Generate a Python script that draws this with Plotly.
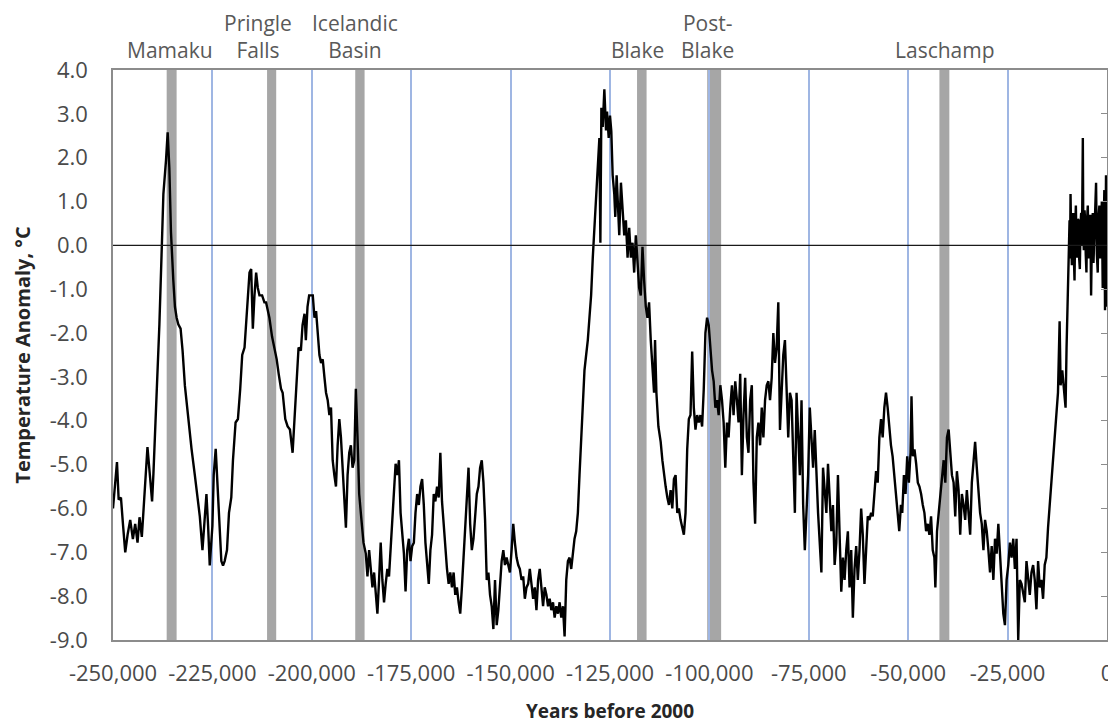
import plotly.graph_objects as go

# ---------------- data ----------------
years = [
    -250000, -249000, -248580, -248000, -247500, -246920, -246330, -245670, -245000, -244420,
    -243830, -243330, -242750, -242170, -241330, -240670, -240170, -239830, -239000, -238330,
    -237750, -237330, -236670, -236250, -235830, -235420, -234830, -234420, -234000, -233580,
    -233000, -232500, -231920, -231080, -230250, -229420, -228830, -228170, -227500, -227080,
    -226500, -226080, -225670, -225000, -224670, -224170, -223750, -223330, -222750, -222330,
    -221920, -221330, -220830, -220250, -219830, -219170, -218580, -218000, -217500, -216920,
    -216500, -216080, -215670, -215250, -214830, -214420, -214000, -213580, -213170, -212500,
    -211920, -211500, -210670, -210000, -209420, -208830, -208330, -207750, -207330, -206670,
    -206080, -205500, -204830, -204420, -203830, -203330, -202750, -202330, -201830, -201500,
    -201080, -200670,
    -199750, -199330, -198920, -198500, -198080, -197670, -197250, -196830, -196420, -196000,
    -195580, -195170, -194750, -194330, -193920, -193500, -193080, -192670, -192250, -191830,
    -191420, -191000, -190580, -190170, -189750, -189330, -188920, -188500, -188080, -187670,
    -187000, -186420, -186000, -185580, -185170, -184750, -184330, -183920, -183500, -183080,
    -182670, -182250, -181830, -181420, -181000, -180580, -180170, -179750, -179330, -178920,
    -178500, -178080, -177670, -177250, -176830, -176420, -176000, -175580, -175170, -174750,
    -174330, -173920, -173500, -173080, -172670, -172250, -171830, -171420, -171000, -170580,
    -170170, -169750, -169330, -168920, -168500, -168080, -167670, -167250, -166830, -166420,
    -166000, -165580, -165170, -164750, -164330, -163920, -163500, -163080, -162670, -162250,
    -161830, -161420, -161000, -160580, -160170, -159750, -159330, -158920, -158500, -158080,
    -157670, -157250, -156830, -156420, -156000, -155580, -155170, -154750, -154330, -153920,
    -153500, -153080, -152670, -152250, -151830, -151420, -151000,
    -150170, -149750, -149330, -148920, -148500, -148080, -147670, -147250, -146830, -146420,
    -146000, -145580, -145170, -144750, -144330, -143920, -143500, -143080, -142670, -142250,
    -141830, -141420, -141000, -140580, -140170, -139750, -139330, -138920, -138500, -138080,
    -137670, -137250, -136830, -136420, -136000, -135580, -135170, -134750, -134330, -133920,
    -133500, -133080, -132670, -132250, -131830, -131420, -131000, -130580, -130170, -129750,
    -129330, -128920, -128500, -128080, -127670, -127420, -127170, -126830, -126420, -126000,
    -125750, -125330, -125000, -124670, -124330, -123920, -123670, -123330, -123000, -122670,
    -122250, -121830, -121420, -121000, -120580, -120170, -119750, -119330, -118920, -118500,
    -118080, -117670, -117250, -116830, -116420, -116000, -115580, -115170, -114750, -114330,
    -113920, -113670, -113330, -112830, -112250, -111830, -111420, -111000, -110580, -110170,
    -109750, -109330, -108920, -108500, -108080, -107670, -107250, -106830, -106420, -106000,
    -105580, -105170, -104750, -104330, -103920, -103500, -103080, -102670, -102250, -101830,
    -101420, -101000,
    -100580, -100170, -99750, -99330, -98920, -98500, -98080, -97670, -97250, -96830,
    -96420, -96000, -95580, -95170, -94750, -94330, -93920, -93500, -93080, -92670,
    -92250, -91830, -91420, -91000, -90580, -90170, -89750, -89330, -88920, -88500,
    -88080, -87670, -87250, -86830, -86420, -86000, -85580, -85170, -84750, -84330,
    -83920, -83500, -83080, -82670, -82250, -81830, -81420, -81000, -80580, -80170,
    -79750, -79330, -78920, -78500, -78080, -77670, -77250, -76830, -76420, -76000,
    -75580, -75170, -74750, -74330, -73920, -73500, -73080, -72670, -72250, -71830,
    -71420, -71000, -70580, -70170, -69750, -69330, -68920, -68500, -68080, -67670,
    -67250, -66830, -66420, -66000, -65580, -65170, -64750, -64330, -63920, -63500,
    -63080, -62670, -62250, -61830, -61420, -61000, -60580, -60170, -59750, -59330,
    -58920, -58500, -58080, -57670, -57250, -56830, -56420, -56000, -55580, -55170,
    -54750, -54330, -53920, -53500, -53080, -52670, -52250, -51830,
    -51500, -51080, -50670, -50250, -49830, -49420, -49170, -48830, -48420, -48000,
    -47580, -47170, -46750, -46330, -45920, -45500, -45080, -44670, -44250, -43830,
    -43420, -43170, -42750, -42330, -41920, -41500, -41080, -40670, -40250, -39830,
    -39420, -39000, -38580, -38170, -37750, -37330, -36920, -36500, -36080, -35670,
    -35250, -34830, -34420, -34000, -33580, -33170, -32750, -32330, -31920, -31500,
    -31080, -30670, -30250, -29830, -29420, -29000, -28580, -28170, -27750, -27330,
    -26920, -26500, -26080, -25670, -25250, -24830, -24420, -24000, -23580, -23170,
    -22750, -22330, -21920, -21500, -21080, -20670, -20250, -19830, -19420, -19000,
    -18580, -18170, -17750, -17330, -16920, -16500, -16080, -15670, -15250, -14830,
    -14420, -14000, -13580, -13170, -12750, -12330, -11920, -11670, -11250, -10830,
    -10420, -10170, -9830, -9600, -9420, -9300, -9170, -9000, -8830, -8700,
    -8500, -8350, -8170, -8000, -7830, -7650, -7500, -7350, -7170, -7000,
    -6830, -6650, -6500, -6300, -6080, -5950, -5830, -5650, -5500, -5350,
    -5170, -5000, -4830, -4650, -4420, -4200, -4000, -3800, -3580, -3400,
    -3170, -3000, -2750, -2550, -2330, -2150, -1920, -1700, -1500, -1300,
    -1080, -900, -670, -500, -350, -250, -120, 0,
]

anomaly = [
    -6.0, -4.94, -5.8, -5.75, -6.35, -7.0, -6.6, -6.26, -6.7, -6.35,
    -6.78, -6.2, -6.65, -5.9, -4.6, -5.3, -5.84, -5.2, -3.5, -1.8,
    -0.1, 1.17, 1.94, 2.58, 1.77, 0.3, -0.8, -1.4, -1.65, -1.8,
    -1.9, -2.4, -3.2, -3.96, -4.64, -5.24, -5.75, -6.18, -6.95, -6.4,
    -5.67, -6.4, -7.3, -6.4, -5.24, -4.64, -5.5, -6.18, -7.2, -7.3,
    -7.2, -6.95, -6.1, -5.75, -4.9, -4.04, -3.96, -3.27, -2.5, -2.33,
    -1.82, -1.3, -0.62, -0.54, -1.9, -1.14, -0.62, -0.97, -1.14, -1.14,
    -1.3, -1.3, -1.65, -2.08, -2.33, -2.6, -2.93, -3.27, -3.36, -3.96,
    -4.13, -4.2, -4.73, -4.04, -3.1, -2.33, -2.4, -1.82, -1.56, -2.16,
    -1.4, -1.14,
    -1.14, -1.65, -1.5, -2.0, -2.5, -2.68, -2.6, -3.0, -3.36, -3.53,
    -3.87, -3.7, -4.9, -5.24, -5.5, -4.56, -3.96, -4.38, -5.07, -5.5,
    -6.44, -5.24, -4.73, -4.56, -5.07, -4.9, -3.27, -4.38, -5.67, -6.1,
    -6.78, -7.03, -7.55, -6.95, -7.38, -7.8, -7.46, -7.97, -8.4, -7.63,
    -6.78, -7.63, -8.14, -7.72, -7.38, -7.55, -6.86, -6.1, -5.5, -4.98,
    -5.24, -4.9, -6.1, -6.52, -7.03, -7.89, -6.95, -6.69, -7.2, -6.86,
    -6.78, -6.1, -5.67, -5.92, -5.5, -5.33, -5.92, -6.78, -7.2, -7.72,
    -6.95, -6.6, -5.67, -5.84, -5.5, -5.75, -4.73, -5.84, -6.35, -6.95,
    -7.38, -7.72, -7.46, -7.8, -7.46, -7.97, -7.8, -8.14, -8.4, -7.8,
    -7.12, -6.44, -5.75, -5.07, -6.35, -6.95, -6.69, -6.1, -5.67, -5.5,
    -5.07, -4.9, -5.41, -6.26, -7.63, -7.46, -7.97, -8.23, -8.75, -7.63,
    -8.66, -8.32, -7.63, -7.2, -6.95, -7.29, -7.12,
    -7.46, -6.95, -6.35, -6.78, -7.12, -7.29, -7.38, -7.63, -7.55, -8.06,
    -7.8, -7.72, -7.38, -7.72, -8.06, -7.8, -8.32, -7.63, -7.38, -7.8,
    -8.23, -7.8, -7.97, -8.23, -8.06, -8.32, -8.14, -8.49, -8.23, -8.4,
    -8.14, -8.49, -8.23, -8.92, -7.63, -7.2, -7.12, -7.38, -6.95, -6.69,
    -6.52, -6.1, -5.24, -4.38, -3.53, -2.85, -2.5, -2.16, -1.65, -1.14,
    -0.28, 0.48, 1.17, 2.03, 2.45, 0.06, 3.14, 2.7, 3.56, 2.62,
    3.05, 2.45, 2.96, 2.6, 1.6, 1.17, 0.65, 1.6, 1.0, 0.23,
    1.43, 0.91, 0.23, 0.57, -0.28, 0.4, -0.28, 0.06, -0.62, 0.23,
    -0.45, -0.97, -1.14, -0.03, -0.8, -1.39, -1.65, -1.3, -2.16, -2.93,
    -3.36, -2.16, -3.36, -4.13, -4.48, -4.9, -5.24, -5.5, -5.75, -5.92,
    -5.58, -6.0, -5.33, -5.24, -6.1, -6.0, -6.26, -6.44, -6.6, -6.1,
    -4.65, -3.96, -3.87, -2.42, -3.7, -4.2, -3.87, -4.04, -3.87, -4.13,
    -3.28, -2.0,
    -1.65, -1.82, -2.33, -2.85, -3.1, -3.7, -3.53, -3.87, -3.19, -3.53,
    -4.04, -5.07, -4.04, -4.38, -3.7, -3.19, -3.87, -3.1, -3.53, -4.04,
    -2.93, -5.24, -3.87, -3.02, -4.38, -4.73, -3.53, -3.19, -5.41, -6.35,
    -4.38, -4.04, -4.56, -3.7, -4.38, -3.53, -3.19, -3.1, -3.53, -3.02,
    -2.0, -2.68, -2.33, -1.3, -4.21, -3.19, -2.5, -2.16, -3.36, -4.38,
    -3.36, -3.53, -4.81, -6.1, -3.36, -4.38, -5.24, -3.53, -5.92, -6.95,
    -6.1, -5.24, -3.7, -4.38, -5.07, -4.21, -5.24, -6.1, -6.78, -7.46,
    -5.07, -5.58, -6.1, -4.98, -5.67, -6.52, -5.92, -7.29, -6.78, -5.24,
    -6.6, -7.9, -7.12, -7.63, -6.95, -6.52, -7.8, -6.95, -8.49, -7.38,
    -6.86, -7.63, -6.95, -6.0, -6.6, -7.72, -6.95, -6.18, -6.26, -6.1,
    -6.18, -5.67, -5.15, -5.41, -4.38, -3.96, -4.38, -3.7, -3.36, -3.7,
    -4.21, -4.56, -4.81, -5.24, -5.67, -6.1, -6.52, -5.92,
    -6.1, -5.24, -5.67, -4.81, -5.41, -4.73, -3.44, -4.81, -4.65, -4.98,
    -5.41, -5.5, -5.67, -5.92, -6.1, -6.52, -6.35, -6.6, -6.18, -6.95,
    -7.12, -7.8, -6.52, -6.1, -5.67, -5.15, -4.9, -5.41, -4.38, -4.2,
    -4.73, -5.24, -5.41, -6.18, -5.15, -5.58, -6.6, -5.67, -5.92, -6.26,
    -5.58, -6.1, -6.6, -5.41, -4.9, -4.48, -5.07, -5.67, -6.1, -6.35,
    -6.95, -6.26, -6.52, -6.95, -7.46, -6.86, -7.63, -6.69, -7.03, -6.35,
    -7.12, -7.8, -8.4, -8.66, -7.63, -7.29, -6.78, -7.12, -6.69, -7.38,
    -6.69, -9.0, -7.63, -7.72, -7.97, -8.14, -7.2, -7.63, -7.97, -7.46,
    -7.29, -7.63, -8.3, -7.2, -7.8, -7.63, -8.06, -7.29, -7.12, -6.44,
    -5.92, -5.24, -4.81, -4.38, -3.7, -3.36, -1.73, -3.19, -2.85, -3.36,
    -3.7, -2.33, -0.97, 0.2, 0.57, -0.3, 1.17, 0.1, -0.45, 0.5,
    0.74, -0.2, -0.8, 0.4, 0.91, -0.1, -0.28, 0.6, 0.57, -0.3,
    -0.54, 0.5, 0.74, 0.0, 2.45, 0.2, -0.11, 0.8, 0.57, -0.2,
    -0.62, 0.6, 0.91, -0.3, 0.06, 0.7, -1.14, 0.2, 0.74, -0.4,
    0.31, 0.9, 1.43, -0.2, -0.62, 0.6, 0.91, -0.3, 0.23, 1.0,
    -0.97, 0.6, 1.26, -1.48, 0.5, 1.6, -0.3, -1.4,
]

event_names = ["Mamaku", "Pringle<br>Falls", "Icelandic<br>Basin", "Blake", "Post-<br>Blake", "Laschamp"]
event_years = [-235250, -210100, -187900, -117000, -98800, -40900]
event_widths = [2500, 2300, 2350, 2400, 3500, 2500]

x_tickvals = list(range(-250000, 1, 25000))
x_ticktext = ["-250,000", "-225,000", "-200,000", "-175,000", "-150,000", "-125,000",
              "-100,000", "-75,000", "-50,000", "-25,000", "0"]
y_tickvals = list(range(4, -10, -1))
y_ticktext = ["4.0", "3.0", "2.0", "1.0", "0.0", "-1.0", "-2.0", "-3.0", "-4.0",
              "-5.0", "-6.0", "-7.0", "-8.0", "-9.0"]

# ---------------- figure ----------------
FONT = "Open Sans"
fig = go.Figure()

fig.add_trace(go.Scatter(
    x=years, y=anomaly, mode="lines",
    line=dict(color="#000000", width=2.4),
    showlegend=False, hoverinfo="x+y",
))
# empty trace on secondary axis so its inner tick marks are drawn
fig.add_trace(go.Scatter(x=[None], y=[None], yaxis="y2", showlegend=False, hoverinfo="skip"))

shapes = []
for yr, w in zip(event_years, event_widths):
    shapes.append(dict(
        type="rect", xref="x", yref="y", x0=yr - w / 2, x1=yr + w / 2, y0=-9, y1=4,
        fillcolor="#a6a6a6", line=dict(width=0), layer="below",
    ))
# zero reference line
shapes.append(dict(type="line", xref="paper", yref="y", x0=0, x1=1, y0=0, y1=0,
                   line=dict(color="#1a1a1a", width=1.3), layer="above"))

label_xshift = [-2, -14, -5, -4, -7, 1]
annotations = []
for name, yr, dx in zip(event_names, event_years, label_xshift):
    annotations.append(dict(
        x=yr, xref="x", y=1, yref="paper", yanchor="bottom", xanchor="center",
        text=name, showarrow=False, xshift=dx, yshift=4,
        font=dict(family=FONT, size=21, color="#595959"),
        align="center",
    ))

# the page body adds an 8px offset, so margins are compensated accordingly
fig.update_layout(
    width=1116, height=723,
    margin=dict(l=105, r=17, t=62, b=91, autoexpand=False),
    paper_bgcolor="white", plot_bgcolor="white",
    shapes=shapes, annotations=annotations,
    showlegend=False,
    xaxis=dict(
        range=[-250000, 0], tickvals=x_tickvals, ticktext=x_ticktext,
        showgrid=True, gridcolor="#9fb6e3", gridwidth=1.5, automargin=False,
        zeroline=False, showline=True, linecolor="#8c8c8c", linewidth=1.5, mirror=True,
        ticks="", ticklabelstandoff=13,
        tickfont=dict(family=FONT, size=22, color="#4a4a4a"),
        title=dict(text="<b>Years before 2000</b>", standoff=19,
                   font=dict(family=FONT, size=19, color="#262626")),
    ),
    yaxis=dict(
        range=[-9, 4], tickvals=y_tickvals, ticktext=y_ticktext,
        showgrid=False, zeroline=False, automargin=False,
        showline=True, linecolor="#8c8c8c", linewidth=1.5, mirror=True,
        ticks="outside", ticklen=19, tickcolor="rgba(0,0,0,0)",
        tickfont=dict(family=FONT, size=22, color="#4a4a4a"),
        title=dict(text="<b>Temperature Anomaly, °C</b>", standoff=14,
                   font=dict(family=FONT, size=20, color="#262626")),
    ),
    yaxis2=dict(
        overlaying="y", side="right", range=[-9, 4], tickvals=y_tickvals,
        showticklabels=False, showgrid=False, zeroline=False, automargin=False,
        ticks="inside", ticklen=6, tickcolor="#8c8c8c", tickwidth=1.2,
    ),
)

fig.write_html("out.html")
